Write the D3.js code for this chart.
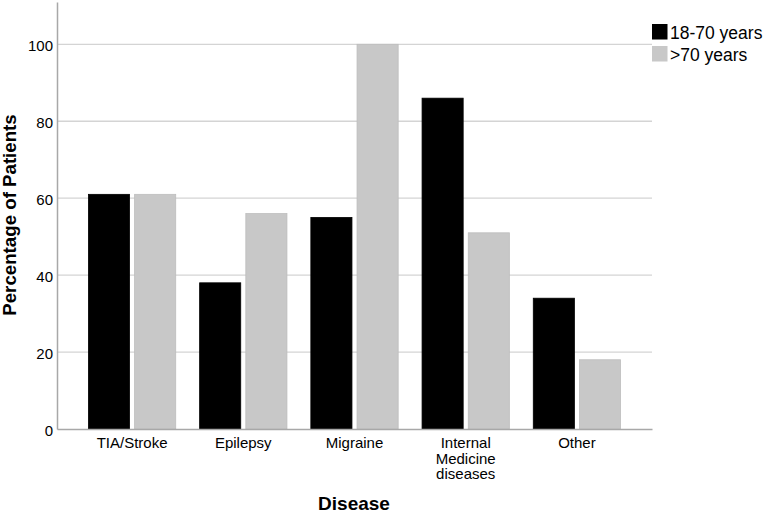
<!DOCTYPE html>
<html lang="en">
<head>
<meta charset="UTF-8">
<title>Percentage of Patients by Disease</title>
<script src="https://cdn.jsdelivr.net/npm/d3@7.8.5/dist/d3.min.js"></script>
<style>
  * { margin: 0; padding: 0; }
  body { background: #fff; font-family: Arial, 'Liberation Sans', sans-serif; }
  svg text { font-family: Arial, 'Liberation Sans', sans-serif; fill: #000; }
</style>
</head>
<body>
<svg id="chart" width="765" height="513"></svg>
<script>
// data
const diseases = [["TIA/Stroke"], ["Epilepsy"], ["Migraine"], ["Internal", "Medicine", "diseases"], ["Other"]];
const groups = ["18-70 years", ">70 years"];
const youngVals = [61, 38, 55, 86, 34];
const oldVals = [61, 56, 100, 51, 18];
const yTicks = [0, 20, 40, 60, 80, 100];

const colors = { "18-70 years": "#000000", ">70 years": "#c8c8c8" };

const svg = d3.select("#chart");
const plotL = 57, plotR = 652, plotT = 2, plotB = 429;

const names = diseases.map(d => d.join(" "));
const rows = names.map((n, i) => ({ name: n, lines: diseases[i], vals: [youngVals[i], oldVals[i]] }));

const x = d3.scaleBand().domain(names).range([plotL, plotR]).paddingInner(0.215).paddingOuter(0.2825);
const xi = d3.scaleBand().domain(groups).range([0, x.bandwidth()]).paddingInner(0.11);
const y = d3.scaleLinear().domain([0, 111]).range([plotB, plotT]);

// gridlines
svg.append("g")
  .selectAll("line")
  .data(yTicks.filter(t => t > 0))
  .enter().append("line")
  .attr("x1", plotL).attr("x2", plotR)
  .attr("y1", d => y(d)).attr("y2", d => y(d))
  .attr("stroke", "#d4d4d4").attr("stroke-width", 1.3);

// bars
const g = svg.append("g").selectAll("g")
  .data(rows).enter().append("g")
  .attr("transform", d => `translate(${x(d.name)},0)`);

g.selectAll("rect")
  .data(d => d.vals.map((v, i) => ({ key: groups[i], v: v })))
  .enter().append("rect")
  .attr("x", d => xi(d.key))
  .attr("width", xi.bandwidth())
  .attr("y", d => y(d.v))
  .attr("height", d => y(0) - y(d.v))
  .attr("fill", d => colors[d.key])
  .attr("stroke", d => d.key === ">70 years" ? "#bdbdbd" : "#000")
  .attr("stroke-width", 0.8);

// axes
const yAxis = d3.axisLeft(y).tickValues(yTicks).tickSize(0).tickPadding(4);
const ya = svg.append("g").attr("transform", `translate(${plotL},0)`).call(yAxis);
ya.select(".domain").attr("stroke", "#a8a8a8").attr("stroke-width", 1.5);
ya.selectAll("text").style("font-size", "15px").attr("dy", "0.42em");

const xAxis = d3.axisBottom(x).tickSize(0).tickFormat("");
const xa = svg.append("g").attr("transform", `translate(0,${plotB})`).call(xAxis);
xa.select(".domain").attr("stroke", "#a8a8a8").attr("stroke-width", 1.5);

// category labels, multi-line
svg.append("g").selectAll("text")
  .data(rows).enter().append("text")
  .attr("x", d => x(d.name) + x.bandwidth() / 2)
  .attr("y", 448)
  .attr("text-anchor", "middle")
  .style("font-size", "15px")
  .each(function (d) {
    d3.select(this).selectAll("tspan")
      .data(d.lines).enter().append("tspan")
      .attr("x", x(d.name) + x.bandwidth() / 2)
      .attr("dy", (l, i) => i === 0 ? 0 : 15.5)
      .text(l => l);
  });

// axis titles
svg.append("text")
  .attr("x", 354).attr("y", 510)
  .attr("text-anchor", "middle")
  .style("font-size", "19px").style("font-weight", "bold")
  .text("Disease");

svg.append("text")
  .attr("transform", "translate(16,215) rotate(-90)")
  .attr("text-anchor", "middle")
  .style("font-size", "18.7px").style("font-weight", "bold")
  .text("Percentage of Patients");

// legend
const legend = svg.append("g").attr("transform", "translate(652,24)");
groups.forEach((k, i) => {
  const row = legend.append("g").attr("transform", `translate(0,${i * 22})`);
  row.append("rect").attr("width", 15.5).attr("height", 15.5).attr("fill", colors[k]);
  row.append("text").attr("x", 18).attr("y", 14.5).style("font-size", "17.5px").text(k);
});
</script>
</body>
</html>
